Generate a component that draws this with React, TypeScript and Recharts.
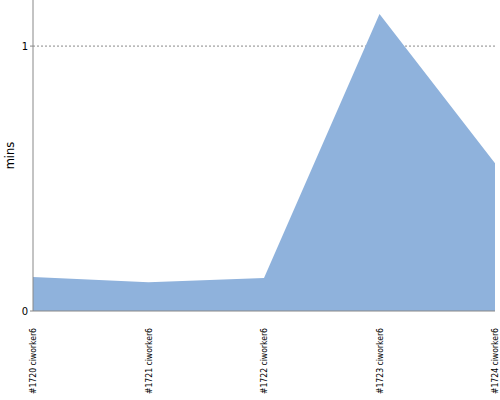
import { AreaChart, Area, XAxis, YAxis, CartesianGrid, Label } from "recharts";

const builds = ["#1720 ciworker6", "#1721 ciworker6", "#1722 ciworker6", "#1723 ciworker6", "#1724 ciworker6"];
const durations = [0.128, 0.109, 0.125, 1.121, 0.558];
const yTicks = [0, 1];

const data = builds.map((build, i) => ({ build, mins: durations[i] }));

const BuildTick = (props: any) => {
  const { x, y, payload } = props;
  return (
    <g transform={`translate(${x},${y + 9})`}>
      <text
        transform="rotate(-90)"
        textAnchor="end"
        dy={3}
        fontSize={9}
        fontFamily="DejaVu Sans"
        fill="#000"
        textLength={66}
        lengthAdjust="spacingAndGlyphs"
      >
        {payload.value}
      </text>
    </g>
  );
};

const App = () => {
  return (
    <div style={{ position: "absolute", left: 0, top: 0, background: "#fff" }}>
      <AreaChart width={500} height={400} data={data} margin={{ top: 0, right: 5, bottom: 0, left: 0 }}>
        <CartesianGrid horizontal vertical={false} strokeDasharray="2 2" stroke="#888" horizontalValues={[1]} />
        <XAxis
          dataKey="build"
          height={89}
          interval={0}
          tick={<BuildTick />}
          tickLine={false}
          stroke="#888"
        />
        <YAxis
          width={33}
          domain={[0, 1.174]}
          ticks={yTicks}
          tickSize={3}
          tick={{ fontSize: 10, fill: "#000", fontFamily: "DejaVu Sans" }}
          stroke="#888"
        >
          <Label value="mins" angle={-90} position="insideLeft" offset={10} style={{ fontSize: 11.5, fill: "#000", fontFamily: "DejaVu Sans", textAnchor: "middle" }} />
        </YAxis>
        <Area
          type="linear"
          dataKey="mins"
          stroke="none"
          fill="#8fb2dc"
          fillOpacity={1}
          isAnimationActive={false}
          dot={false}
          activeDot={false}
        />
      </AreaChart>
    </div>
  );
};

export default App;
